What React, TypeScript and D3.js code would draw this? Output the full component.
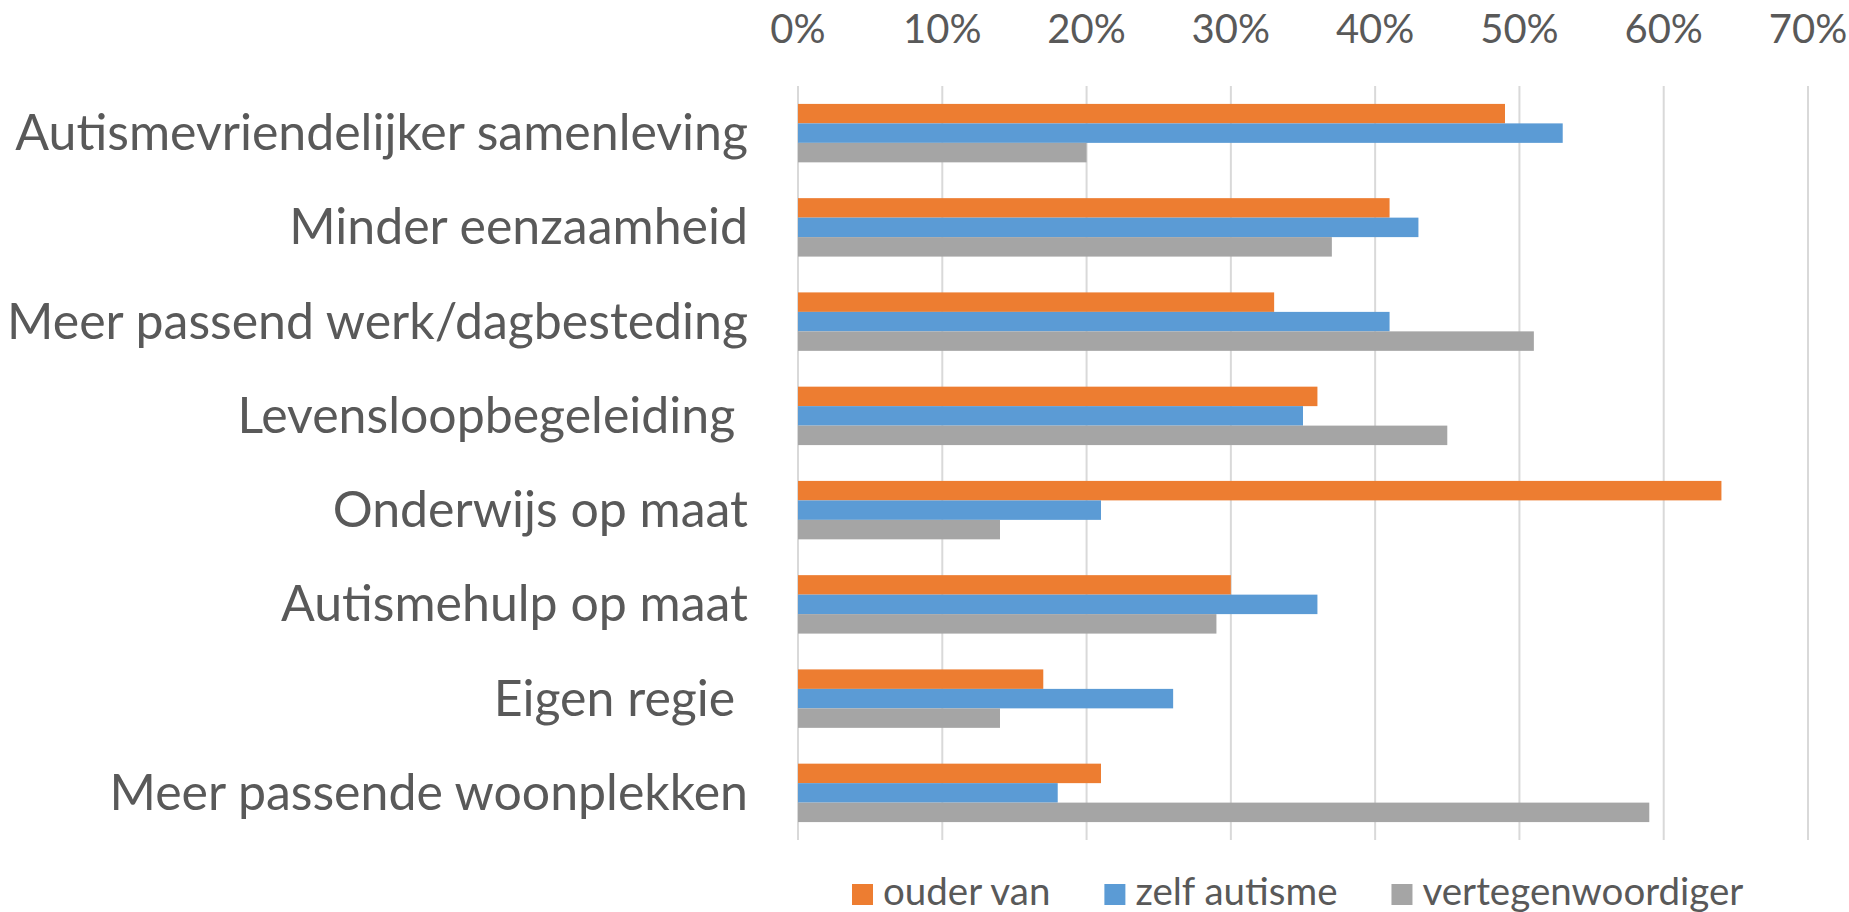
import React, { useEffect, useRef } from "react";
import * as d3 from "d3";

const categories = [
  "Autismevriendelijker samenleving",
  "Minder eenzaamheid",
  "Meer passend werk/dagbesteding",
  "Levensloopbegeleiding ",
  "Onderwijs op maat",
  "Autismehulp op maat",
  "Eigen regie ",
  "Meer passende woonplekken",
];

const seriesNames = ["ouder van", "zelf autisme", "vertegenwoordiger"];
const seriesColors = ["#ED7D31", "#5B9BD5", "#A5A5A5"];

const ouderVan = [0.49, 0.41, 0.33, 0.36, 0.64, 0.3, 0.17, 0.21];
const zelfAutisme = [0.53, 0.43, 0.41, 0.35, 0.21, 0.36, 0.26, 0.18];
const vertegenwoordiger = [0.2, 0.37, 0.51, 0.45, 0.14, 0.29, 0.14, 0.59];

const xTicks = [0, 0.1, 0.2, 0.3, 0.4, 0.5, 0.6, 0.7];

const App: React.FC = () => {
  const svgRef = useRef<SVGSVGElement>(null);

  useEffect(() => {
    if (!svgRef.current) return;
    const width = 1849;
    const height = 912;
    const font = "Lato, 'Open Sans', sans-serif";
    const textColor = "#595959";

    const svg = d3.select(svgRef.current);
    svg.selectAll("*").remove();
    svg.attr("width", width).attr("height", height);

    const x = d3.scaleLinear().domain([0, 0.7]).range([798, 1808]);
    const y = d3
      .scaleBand<string>()
      .domain(categories)
      .range([86, 840])
      .paddingInner(0.38)
      .paddingOuter(0.19);
    const inner = d3
      .scaleBand<string>()
      .domain(seriesNames)
      .range([0, y.bandwidth()]);

    // gridlines
    svg
      .append("g")
      .selectAll("line")
      .data(xTicks)
      .join("line")
      .attr("x1", (d) => x(d))
      .attr("x2", (d) => x(d))
      .attr("y1", 86)
      .attr("y2", 840)
      .attr("stroke", "#D9D9D9")
      .attr("stroke-width", 2);

    // tick labels on top
    svg
      .append("g")
      .selectAll("text")
      .data(xTicks)
      .join("text")
      .attr("x", (d) => x(d))
      .attr("y", 43)
      .attr("text-anchor", "middle")
      .attr("font-family", font)
      .attr("font-size", 40)
      .attr("fill", textColor)
      .text((d) => d3.format(".0%")(d));

    const values = [ouderVan, zelfAutisme, vertegenwoordiger];

    values.forEach((vals, si) => {
      svg
        .append("g")
        .selectAll("rect")
        .data(vals)
        .join("rect")
        .attr("x", x(0))
        .attr("y", (_, i) => (y(categories[i]) ?? 0) + (inner(seriesNames[si]) ?? 0))
        .attr("width", (d) => x(d) - x(0))
        .attr("height", inner.bandwidth())
        .attr("fill", seriesColors[si]);
    });

    // category labels
    svg
      .append("g")
      .selectAll("text")
      .data(categories)
      .join("text")
      .attr("x", 748)
      .attr("y", (d) => (y(d) ?? 0) + y.bandwidth() / 2 + 17)
      .attr("text-anchor", "end")
      .attr("font-family", font)
      .attr("font-size", 50)
      .attr("fill", textColor)
      .style("white-space", "pre")
      .text((d) => d);

    // legend
    const legend = svg.append("g");
    let lx = 852;
    seriesNames.forEach((name, i) => {
      legend
        .append("rect")
        .attr("x", lx)
        .attr("y", 884)
        .attr("width", 21)
        .attr("height", 21)
        .attr("fill", seriesColors[i]);
      const t = legend
        .append("text")
        .attr("x", lx + 31)
        .attr("y", 905)
        .attr("font-family", font)
        .attr("font-size", 38.5)
        .attr("fill", textColor)
        .text(name);
      const w = (t.node() as SVGTextElement).getComputedTextLength();
      lx += 31 + w + 54;
    });
  }, []);

  return (
    <svg
      ref={svgRef}
      style={{ position: "absolute", left: 0, top: 0, display: "block" }}
    />
  );
};

export default App;
